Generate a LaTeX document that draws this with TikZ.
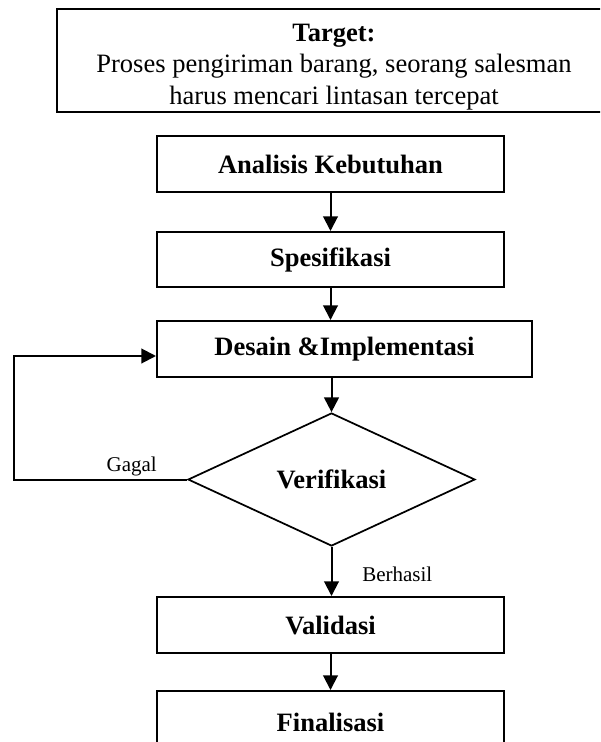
\documentclass[tikz,border=0pt]{standalone}
\usepackage{fontspec}
\setmainfont{Liberation Serif}
\usetikzlibrary{arrows.meta,shapes.geometric}
\newcommand\bigf{\fontsize{19.9}{23.4}\selectfont}
\newcommand\smallf{\fontsize{15.75}{18}\selectfont}
\tikzset{
  wh/.style 2 args={minimum width=#1*0.75pt, minimum height=#2*0.75pt},
  stepbox/.style={draw, rectangle, line width=1.5pt, inner sep=0pt, font=\bigf\bfseries, align=center},
  decbox/.style={draw, diamond, line width=1.3pt, inner sep=0pt, font=\bigf\bfseries},
  lbl/.style={inner sep=0pt, font=\smallf},
  arr/.style={line width=1.5pt, -{Triangle[width=11pt,length=11pt]}},
  plain/.style={line width=1.5pt}
}
\begin{document}
\begin{tikzpicture}[x=0.75pt,y=-0.75pt]
\useasboundingbox (0,0) rectangle (600,742);
\clip (0,0) rectangle (600,742);
\fill[white] (0,0) rectangle (600,742);

% target box
\draw[plain] (57,9) rectangle (611,112);
\node[anchor=north, inner sep=0pt, align=center, font=\bigf] (tgt) at (334,24)
  {\textbf{Target:}\\Proses pengiriman barang, seorang salesman\\harus mencari lintasan tercepat};

% flow nodes
\node[stepbox, wh={347}{56}] (ana) at (330.5,164) {Analisis Kebutuhan};
\node[stepbox, wh={347}{55}] (spe) at (330.5,259.5) {Spesifikasi};
\node[stepbox, wh={375}{56}] (des) at (344.5,349) {Desain \&Implementasi};
\node[decbox, wh={287}{133}] (ver) at (331.5,479.5) {Verifikasi};
\node[stepbox, wh={347}{56}] (val) at (330.5,625) {Validasi};
\node[stepbox, wh={347}{62}] (fin) at (330.5,722) {Finalisasi};

% labels
\node[lbl, anchor=base east] (gag) at (157,471.7) {Gagal};
\node[lbl, anchor=base west] (ber) at (362,581) {Berhasil};

% connectors
\draw[arr] (ana.south) -- (spe.north);
\draw[arr] (spe.south) -- (spe.south |- des.north);
\draw[arr] (ver.north |- des.south) -- (ver.north);
\draw[arr] (ver.south) -- (ver.south |- val.north);
\draw[arr] (val.south) -- (fin.north);

\coordinate (lb) at (14,479.5);
\coordinate (lt) at (14,356);
\draw[arr] (ver.west) -- (lb) -- (lt) -- (lt -| des.west);
\end{tikzpicture}
\end{document}
